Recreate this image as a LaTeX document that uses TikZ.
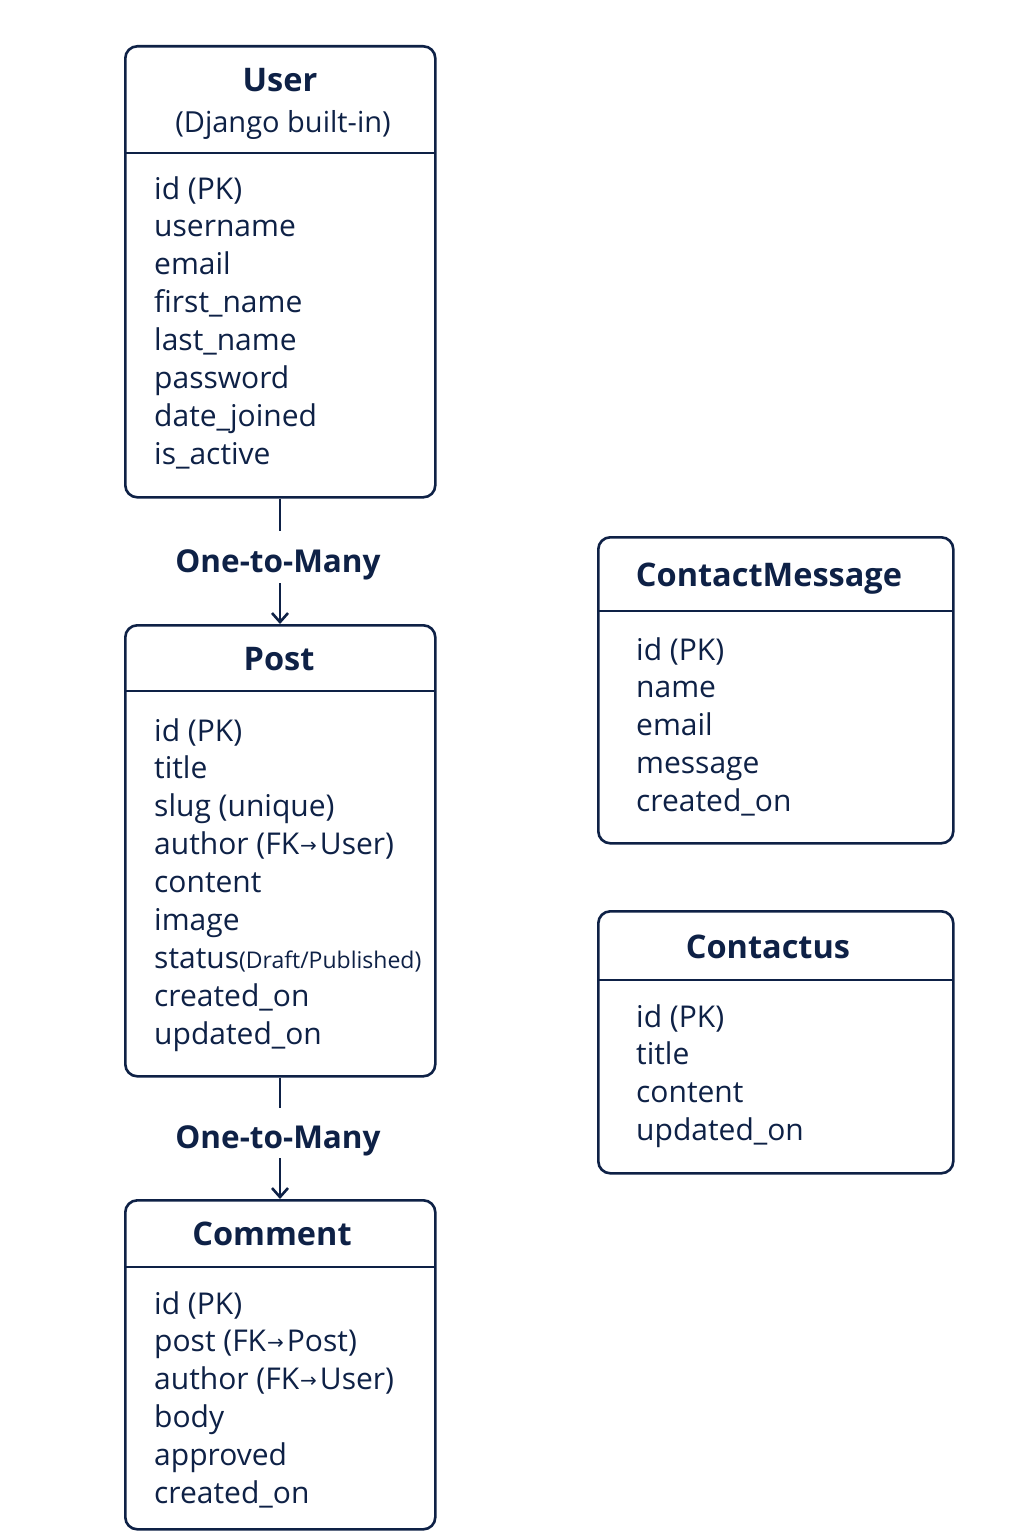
\documentclass[tikz,border=0pt]{standalone}
\usepackage{fontspec}
\setmainfont{Open Sans}
\newfontfamily\arrowfont{DejaVu Sans}
\usetikzlibrary{arrows.meta}
\definecolor{navy}{HTML}{0E2146}
\tikzset{
  entity/.style={draw=navy, line width=2.6pt, rounded corners=12pt, minimum width=310pt, anchor=north west, inner sep=0pt},
  divider/.style={draw=navy, line width=2.4pt},
  field/.style={anchor=base west, inner sep=0pt, text=navy, font=\fontsize{30}{34}\selectfont},
  ttl/.style={anchor=base, inner sep=0pt, text=navy, font=\bfseries\fontsize{32.5}{36}\selectfont},
  sub/.style={anchor=base, inner sep=0pt, text=navy, font=\fontsize{29}{34}\selectfont},
  rel/.style={anchor=base, inner sep=0pt, text=navy, font=\bfseries\fontsize{31.5}{36}\selectfont},
  link/.style={draw=navy, line width=2.8pt},
  linkarr/.style={draw=navy, line width=2.6pt, -{Straight Barb[length=9pt,width=16pt,line width=2.6pt]}},
}
\newcommand{\fkarrow}{\kern1pt{\arrowfont\fontsize{20}{20}\selectfont\raisebox{2pt}{→}}\kern3pt}
\begin{document}
\begin{tikzpicture}[x=1pt,y=-1pt]
\useasboundingbox[fill=white] (0,0) rectangle (1024,1536);
% User
\node[entity, minimum width=310pt, minimum height=451pt] (user) at (124,45) {};
\draw[divider] (124,153) -- (434,153);
\node[ttl] (usert) at (280,92) {User};
\node[sub] (users) at (283,132) {(Django built-in)};
\foreach \t [count=\i] in {id (PK),username,email,first\_name,last\_name,password,date\_joined,is\_active}
  \node[field] (uf\i) at (154,{199+37.9*(\i-1)}) {\t};
% Post
\node[entity, minimum width=310pt, minimum height=451pt] (post) at (124,624) {};
\draw[divider] (124,691) -- (434,691);
\node[ttl] (postt) at (279,670) {Post};
\foreach \t [count=\i] in {id (PK),title,slug (unique),author (FK\fkarrow User),content,image,status{\fontsize{23}{24}\selectfont(Draft/Published)},created\_on,updated\_on}
  \node[field] (pf\i) at (154,{741+37.9*(\i-1)}) {\t};
% Comment
\node[entity, minimum width=310pt, minimum height=329pt] (comment) at (124,1199) {};
\draw[divider] (124,1267) -- (434,1267);
\node[ttl] (commentt) at (272,1245) {Comment};
\foreach \t [count=\i] in {id (PK),post (FK\fkarrow Post),author (FK\fkarrow User),body,approved,created\_on}
  \node[field] (cf\i) at (154,{1314+37.9*(\i-1)}) {\t};
% ContactMessage
\node[entity, minimum width=355pt, minimum height=306pt] (cm) at (597,536) {};
\draw[divider] (597,611) -- (952,611);
\node[ttl] (cmt) at (769,586) {ContactMessage};
\foreach \t [count=\i] in {id (PK),name,email,message,created\_on}
  \node[field] (mf\i) at (636,{660+37.9*(\i-1)}) {\t};
% Contactus
\node[entity, minimum width=355pt, minimum height=262pt] (cu) at (597,910) {};
\draw[divider] (597,980) -- (952,980);
\node[ttl] (cut) at (768,958) {Contactus};
\foreach \t [count=\i] in {id (PK),title,content,updated\_on}
  \node[field] (sf\i) at (636,{1027+37.9*(\i-1)}) {\t};
% relations
\node[rel] (rel1) at (278,572) {One-to-Many};
\node[rel] (rel2) at (278,1148) {One-to-Many};
\coordinate (r1a) at (280,531);
\coordinate (r1b) at (280,583);
\coordinate (r2a) at (280,1108);
\coordinate (r2b) at (280,1158);
\draw[link] (user.south -| r1a) -- (r1a);
\draw[linkarr] (r1b) -- (post.north -| r1b);
\draw[link] (post.south -| r2a) -- (r2a);
\draw[linkarr] (r2b) -- (comment.north -| r2b);
\end{tikzpicture}
\end{document}
